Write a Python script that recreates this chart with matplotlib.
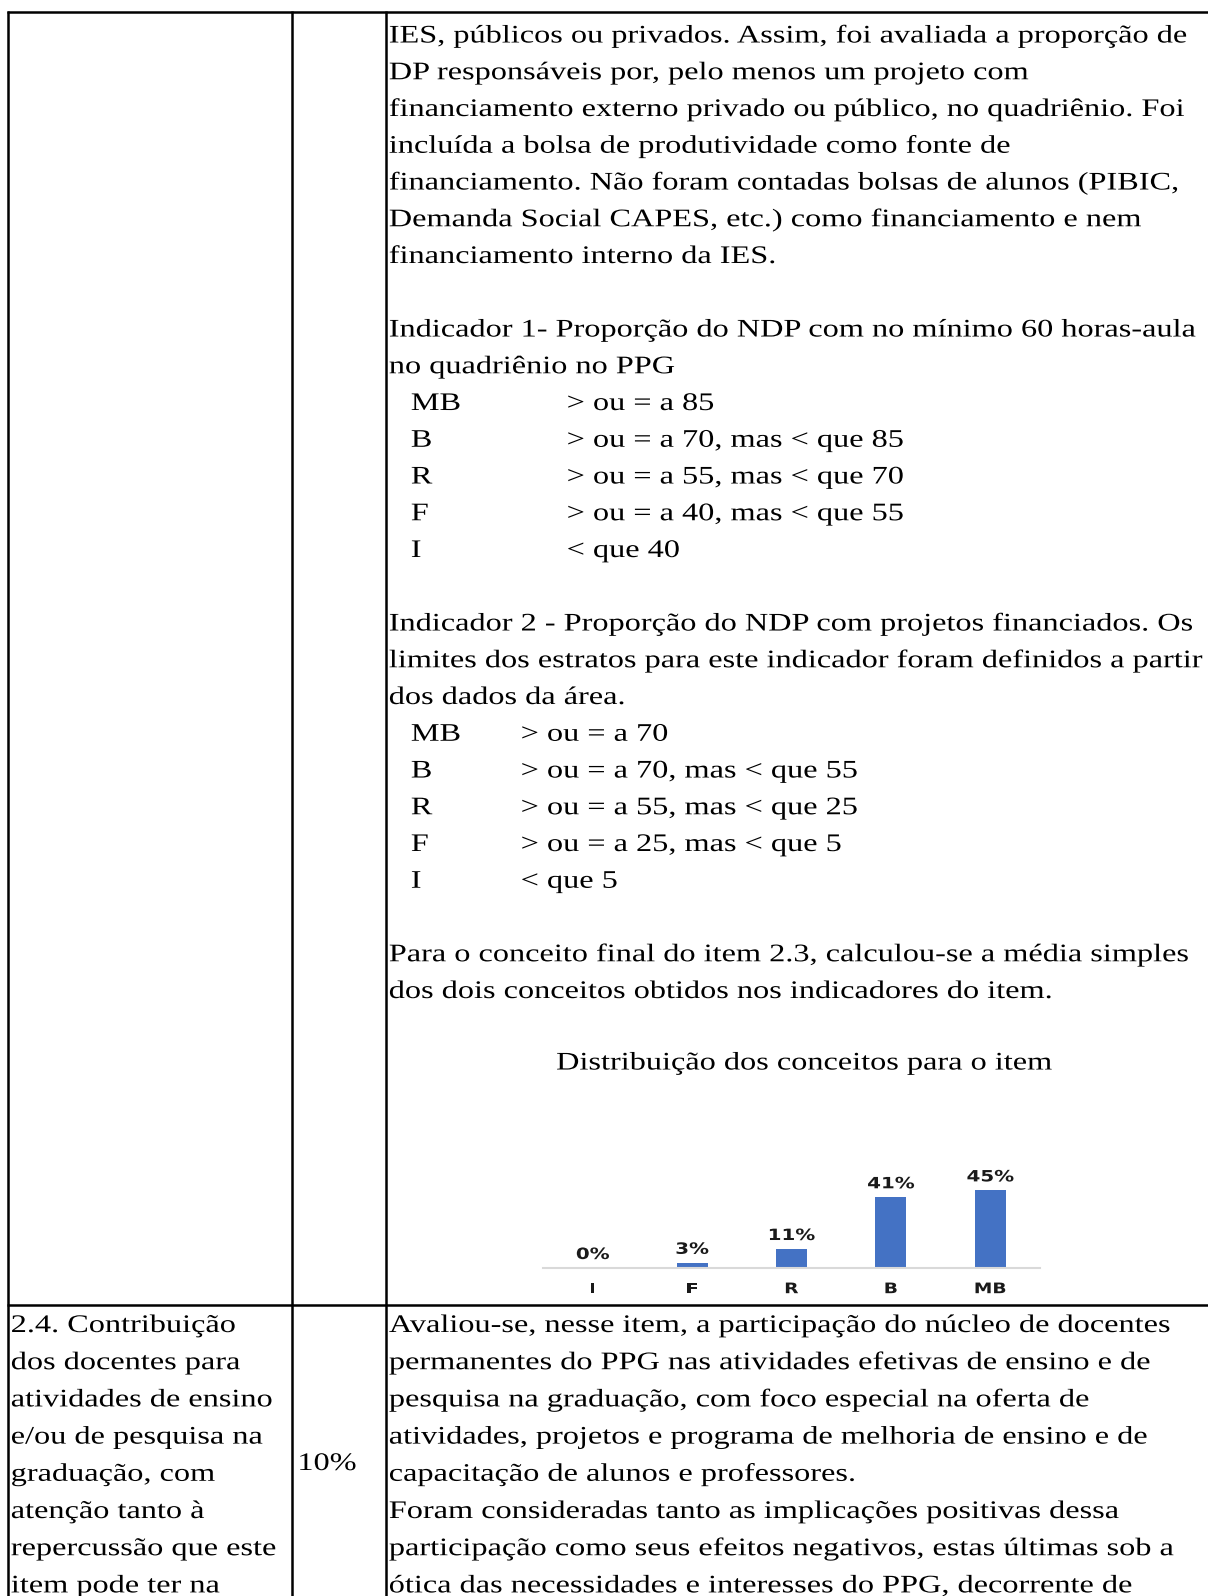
import matplotlib
matplotlib.use("Agg")
import matplotlib.pyplot as plt
from matplotlib.lines import Line2D
from matplotlib.patheffects import AbstractPathEffect
from matplotlib.transforms import Affine2D

W, H = 1208, 1596
DPI = 100

# ---------------- data ----------------
categories = ["I", "F", "R", "B", "MB"]
shares = [0, 3, 11, 41, 45]          # % of programmes per concept
share_labels = ["0%", "3%", "11%", "41%", "45%"]
chart_title = "Distribuição dos conceitos para o item"

para1 = [
    "IES, públicos ou privados. Assim, foi avaliada a proporção de",
    "DP responsáveis por, pelo menos um projeto com",
    "financiamento externo privado ou público, no quadriênio. Foi",
    "incluída a bolsa de produtividade como fonte de",
    "financiamento. Não foram contadas bolsas de alunos (PIBIC,",
    "Demanda Social CAPES, etc.) como financiamento e nem",
    "financiamento interno da IES.",
]
ind1_text = [
    "Indicador 1- Proporção do NDP com no mínimo 60 horas-aula",
    "no quadriênio no PPG",
]
ind1_grades = ["MB", "B", "R", "F", "I"]
ind1_rules = ["> ou = a 85", "> ou = a 70, mas < que 85", "> ou = a 55, mas < que 70",
              "> ou = a 40, mas < que 55", "< que 40"]
ind2_text = [
    "Indicador 2 - Proporção do NDP com projetos financiados. Os",
    "limites dos estratos para este indicador foram definidos a partir",
    "dos dados da área.",
]
ind2_grades = ["MB", "B", "R", "F", "I"]
ind2_rules = ["> ou = a 70", "> ou = a 70, mas < que 55", "> ou = a 55, mas < que 25",
              "> ou = a 25, mas < que 5", "< que 5"]
final_text = [
    "Para o conceito final do item 2.3, calculou-se a média simples",
    "dos dois conceitos obtidos nos indicadores do item.",
]
row2_left = [
    "2.4. Contribuição",
    "dos docentes para",
    "atividades de ensino",
    "e/ou de pesquisa na",
    "graduação, com",
    "atenção tanto à",
    "repercussão que este",
    "item pode ter na",
]
row2_weight = "10%"
row2_right = [
    "Avaliou-se, nesse item, a participação do núcleo de docentes",
    "permanentes do PPG nas atividades efetivas de ensino e de",
    "pesquisa na graduação, com foco especial na oferta de",
    "atividades, projetos e programa de melhoria de ensino e de",
    "capacitação de alunos e professores.",
    "Foram consideradas tanto as implicações positivas dessa",
    "participação como seus efeitos negativos, estas últimas sob a",
    "ótica das necessidades e interesses do PPG, decorrente de",
]


# The scanned page is horizontally stretched; reproduce that on the glyphs.
class HStretch(AbstractPathEffect):
    def __init__(self, sx, align="left"):
        super().__init__()
        self.sx = sx
        self.align = align

    def draw_path(self, renderer, gc, tpath, affine, rgbFace=None):
        bb = tpath.get_extents(affine)
        x0 = bb.x0 if self.align == "left" else 0.5 * (bb.x0 + bb.x1)
        aff = affine + Affine2D().translate(-x0, 0).scale(self.sx, 1).translate(x0, 0)
        renderer.draw_path(gc, tpath, aff, rgbFace)


SX = 1.278

# ---------------- figure ----------------
fig = plt.figure(figsize=(W / DPI, H / DPI), dpi=DPI)
fig.patch.set_facecolor("white")

SERIF = ["Liberation Serif", "DejaVu Serif"]
FS = 18.2


def px(x, y):
    return x / W, 1 - y / H


def put(x, y, s, **kw):
    fx, fy = px(x, y)
    opts = dict(family=SERIF, fontsize=FS, color="black", ha="left", va="baseline")
    opts.update(kw)
    t = fig.text(fx, fy, s, **opts)
    t.set_path_effects([HStretch(SX, "center" if opts["ha"] == "center" else "left")])
    return t


def hline(y, x0, x1):
    fig.add_artist(Line2D([x0 / W, x1 / W], [1 - y / H, 1 - y / H], color="black",
                          lw=1.8, transform=fig.transFigure, solid_capstyle="butt"))


def vline(x, y0, y1):
    fig.add_artist(Line2D([x / W, x / W], [1 - y0 / H, 1 - y1 / H], color="black",
                          lw=1.8, transform=fig.transFigure, solid_capstyle="butt"))


# table grid
TOP, SEP = 12, 1305
hline(TOP, 7, W)
hline(SEP, 7, W)
for xv in (8, 292, 386):
    vline(xv, TOP - 1, H)

# row 1 text
X0 = 389
XG = 411
Y0, DY = 42.5, 36.75
k = 0
for s in para1:
    put(X0, Y0 + DY * k, s); k += 1
k += 1
for s in ind1_text:
    put(X0, Y0 + DY * k, s); k += 1
for g, r in zip(ind1_grades, ind1_rules):
    put(XG, Y0 + DY * k, g)
    put(567, Y0 + DY * k, r)
    k += 1
k += 1
for s in ind2_text:
    put(X0, Y0 + DY * k, s); k += 1
for g, r in zip(ind2_grades, ind2_rules):
    put(XG, Y0 + DY * k, g)
    put(521, Y0 + DY * k, r)
    k += 1
k += 1
for s in final_text:
    put(X0, Y0 + DY * k, s); k += 1
k += 1
put(804, Y0 + DY * k - 2, chart_title, ha="center")

# row 2 text
R0, RDY = 1332, 37.2
for i, s in enumerate(row2_left):
    put(11, R0 + RDY * i, s)
for i, s in enumerate(row2_right):
    put(X0, R0 + RDY * i, s)
put(298, 1470, row2_weight)

# ---------------- bar chart ----------------
base_y = 1268
px_per_pct = 1.724
ymax = 60
ax_left, ax_right = 543, 1040
ax_top = base_y - px_per_pct * ymax
ax = fig.add_axes([ax_left / W, 1 - base_y / H, (ax_right - ax_left) / W,
                   (base_y - ax_top) / H])
ax.set_facecolor("none")
xs = list(range(len(categories)))
ax.bar(xs, shares, width=0.31, color="#4472C4", zorder=2)
ax.set_xlim(-0.5, len(categories) - 0.5)
ax.set_ylim(0, ymax)
for side in ("top", "right", "left"):
    ax.spines[side].set_visible(False)
ax.spines["bottom"].set_color("#d9d9d9")
ax.spines["bottom"].set_linewidth(1.5)
ax.set_yticks([])
ax.set_xticks(xs)
ax.set_xticklabels(categories, fontsize=10.5, fontweight="bold", family="DejaVu Sans",
                   color="#1a1a1a")
for t in ax.get_xticklabels():
    t.set_path_effects([HStretch(SX, "center")])
ax.tick_params(axis="x", length=0, pad=9.5)
for xi, v, lab in zip(xs, shares, share_labels):
    a = ax.annotate(lab, (xi, v), xytext=(0, 6.5), textcoords="offset points",
                    ha="center", va="baseline", fontsize=11.2, fontweight="bold",
                    family="DejaVu Sans", color="#1a1a1a")
    a.set_path_effects([HStretch(SX, "center")])

fig.savefig("out.png", dpi=DPI, facecolor="white")
